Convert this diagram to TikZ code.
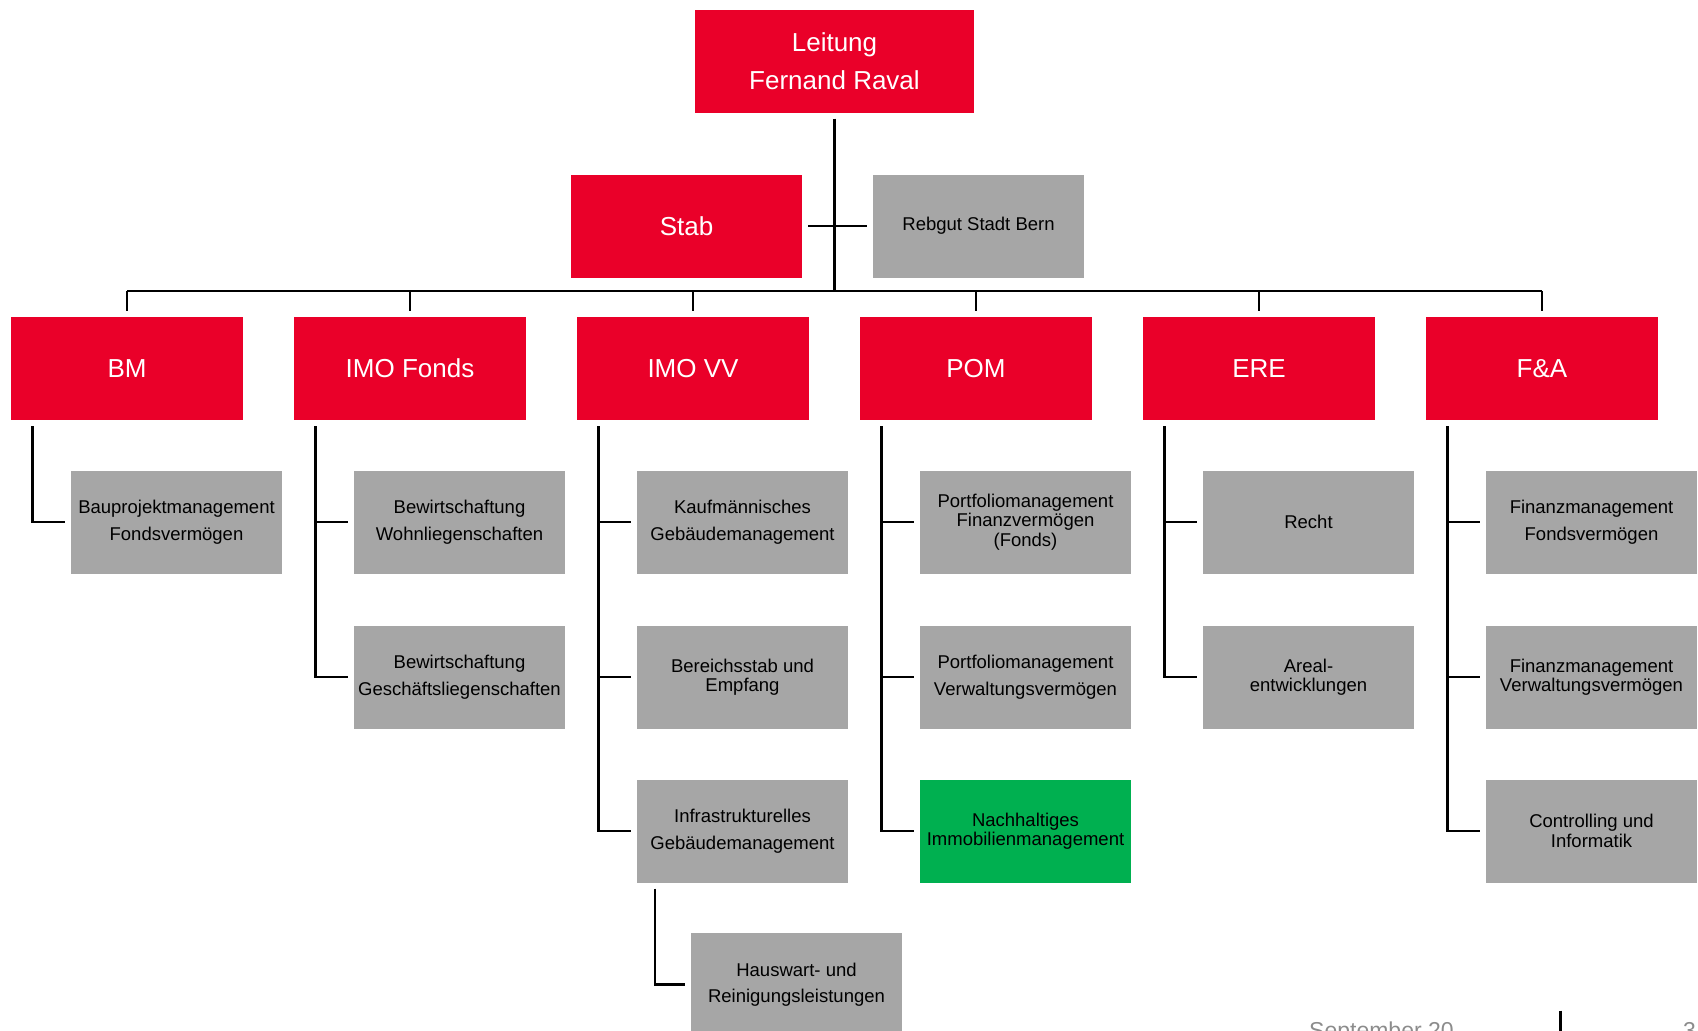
\documentclass[tikz,border=0pt]{standalone}
\usepackage{fontspec}
\setmainfont{Liberation Sans}
\definecolor{bernred}{HTML}{EA0029}
\definecolor{boxgrey}{HTML}{A6A6A6}
\definecolor{boxgreen}{HTML}{00B050}
\definecolor{footgrey}{HTML}{8C8C8C}

\newcommand*{\rowA}{522}
\newcommand*{\rowB}{677}
\newcommand*{\rowC}{831}

\tikzset{
  redbox/.style={fill=bernred, text=white, minimum width=232pt, minimum height=103pt,
    inner sep=0pt, outer sep=6pt, align=center, font=\fontsize{26}{38}\selectfont},
  greybox/.style={fill=boxgrey, text=black, minimum width=211pt, minimum height=103pt,
    inner sep=0pt, outer sep=6pt, align=center, font=\fontsize{18.5}{26.5}\selectfont},
  tight/.style={font=\fontsize{18.5}{19.5}\selectfont},
  orgline/.style={line width=2.2pt}
}

\begin{document}
\begin{tikzpicture}[x=1pt,y=-1pt]
    \useasboundingbox (0,0) rectangle (1698,1031);

    % top
    \node[redbox, minimum width=279pt] (leitung) at (834.5,61) {Leitung\\Fernand Raval};
    \node[redbox, minimum width=231pt] (stab) at (686.5,226) {Stab};
    \node[greybox] (rebgut) at (978.5,226) {Rebgut Stadt Bern};
    \coordinate (bus) at (834.5,291);

    \draw [orgline, line width=2.8pt] (leitung.south) -- (bus);
    \draw [orgline] (stab.east) -- (rebgut.west);

    % departments
    \foreach \name/\label [count=\i from 0] in {bm/BM,imofonds/IMO Fonds,imovv/IMO VV,pom/POM,ere/ERE,fa/F\&A} {
        \node[redbox] (\name) at (127+283*\i,368.5) {\label};
        \draw [orgline] (\name.north |- bus) -- (\name.north);
    }
    \draw [orgline] (bm.north |- bus) -- (fa.north |- bus);

    % BM
    \node[greybox] (bm1) at (176.5,\rowA) {Bauprojektmanagement\\Fondsvermögen};

    % IMO Fonds
    \node[greybox] (imofonds1) at (459.5,\rowA) {Bewirtschaftung\\Wohnliegenschaften};
    \node[greybox] (imofonds2) at (459.5,\rowB) {Bewirtschaftung\\Geschäftsliegenschaften};

    % IMO VV
    \node[greybox] (imovv1) at (742.5,\rowA) {Kaufmännisches\\Gebäudemanagement};
    \node[greybox, tight] (imovv2) at (742.5,\rowB) {Bereichsstab und\\Empfang};
    \node[greybox] (imovv3) at (742.5,\rowC) {Infrastrukturelles\\Gebäudemanagement};
    \node[greybox] (hauswart) at (796.5,984.5) {Hauswart- und\\Reinigungsleistungen};

    % POM
    \node[greybox, tight] (pom1) at (1025.5,\rowA) {Portfoliomanagement\\Finanzvermögen\\(Fonds)};
    \node[greybox] (pom2) at (1025.5,\rowB) {Portfoliomanagement\\Verwaltungsvermögen};
    \node[greybox, tight, fill=boxgreen] (pom3) at (1025.5,\rowC) {Nachhaltiges\\Immobilienmanagement};

    % ERE
    \node[greybox] (ere1) at (1308.5,\rowA) {Recht};
    \node[greybox, tight] (ere2) at (1308.5,\rowB) {Areal-\\entwicklungen};

    % F&A
    \node[greybox] (fa1) at (1591.5,\rowA) {Finanzmanagement\\Fondsvermögen};
    \node[greybox, tight] (fa2) at (1591.5,\rowB) {Finanzmanagement\\Verwaltungsvermögen};
    \node[greybox, tight] (fa3) at (1591.5,\rowC) {Controlling und\\Informatik};

    % connectors
    \foreach \from/\to in {bm/bm1,imofonds/imofonds1,imofonds/imofonds2,
                           imovv/imovv1,imovv/imovv2,imovv/imovv3,
                           pom/pom1,pom/pom2,pom/pom3,ere/ere1,ere/ere2,
                           fa/fa1,fa/fa2,fa/fa3} {
        \draw [orgline] ([xshift=27.5pt]\from.south west) |- (\to.west);
    }
    \draw [orgline] ([xshift=24pt]imovv3.south west) |- (hauswart.west);

    % footer
    \node[anchor=base west, inner sep=0pt, text=footgrey, font=\fontsize{23}{23}\selectfont] (datum) at (1309,1038.5) {September 20};
    \node[anchor=base west, inner sep=0pt, text=footgrey, font=\fontsize{23}{23}\selectfont] (seite) at (1683,1038.5) {3};
    \draw [line width=3pt] (1560.7,1010.7) -- (1560.7,1040);

\end{tikzpicture}
\end{document}
